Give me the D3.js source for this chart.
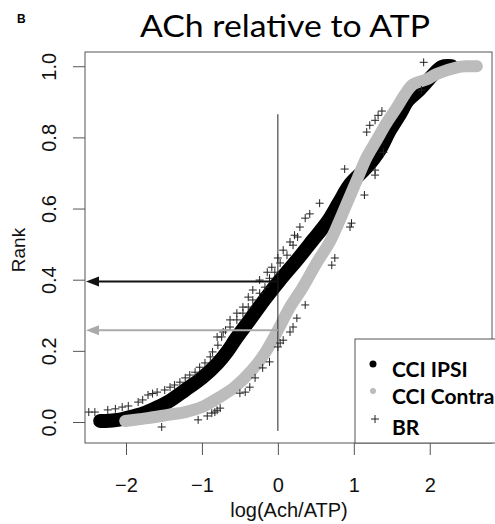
<!DOCTYPE html>
<html>
<head>
<meta charset="utf-8">
<script src="https://cdn.jsdelivr.net/npm/d3@7"></script>
<style>
  body { margin: 0; background: #fff; }
  svg { display: block; }
</style>
</head>
<body>
<div id="graphe"></div>
<script>
// ===============================
// Données
// ===============================
const ipsiX    = [-2.34, -2.27, -2.11, -1.95, -1.80, -1.66, -1.45, -1.22, -1.00, -0.79, -0.66, -0.55, -0.37, -0.15, 0.02, 0.25, 0.46, 0.66, 0.80, 0.95, 1.17, 1.34, 1.47, 1.61, 1.71, 1.87, 2.04, 2.16, 2.29];
const ipsiRang = [0.003, 0.003, 0.006, 0.014, 0.022, 0.034, 0.056, 0.090, 0.124, 0.166, 0.200, 0.235, 0.287, 0.351, 0.397, 0.455, 0.511, 0.565, 0.615, 0.668, 0.716, 0.764, 0.818, 0.866, 0.903, 0.935, 0.975, 0.998, 1.0];

const contraX    = [-2.01, -1.82, -1.71, -1.45, -1.22, -1.00, -0.79, -0.57, -0.34, -0.17, -0.02, 0.16, 0.33, 0.51, 0.68, 0.80, 0.91, 1.04, 1.17, 1.30, 1.43, 1.57, 1.67, 1.78, 1.96, 2.09, 2.36, 2.50, 2.62];
const contraRang = [0.003, 0.008, 0.011, 0.020, 0.028, 0.042, 0.067, 0.098, 0.146, 0.194, 0.250, 0.323, 0.379, 0.447, 0.505, 0.560, 0.615, 0.680, 0.744, 0.792, 0.840, 0.885, 0.920, 0.949, 0.963, 0.978, 0.997, 1.0, 1.0];

const brX = [
  -2.49, -2.41, -2.24, -2.14, -2.05, -1.97, -1.84, -1.78, -1.71, -1.65, -1.59, -1.49, -1.42, -1.36, -1.29, -1.22,
  -1.16, -1.09, -1.03, -0.96, -0.89, -0.86, -0.79, -0.74, -0.69, -0.63, -0.54, -0.46, -0.39, -0.33, -0.24, -0.14,
  -0.08, 0.00, 0.07, 0.16, 0.22, 0.29, 0.36, 0.42, 0.55, 0.88, 1.17, 1.21, 1.28, 1.32, 1.37, 1.92,
  -0.80, -0.72, -0.63, -0.54, -0.46, -0.39, -0.33, -0.24, -0.17, -0.11, -0.04, 0.03, 0.12, 0.20, 0.26,
  -1.53, -1.05, -0.93, -0.87, -0.83, -0.80, -0.76, -0.50, -0.43, -0.37, -0.30, -0.20, -0.11, 0.00, 0.03, 0.07,
  0.16, 0.20, 0.25, 0.36, 0.71, 0.75, 0.95, 0.97, 1.14, 1.28, 1.28, 1.39, 1.89
];
const brRang = [
  0.028, 0.028, 0.034, 0.037, 0.042, 0.045, 0.056, 0.062, 0.076, 0.080, 0.084, 0.090, 0.098, 0.104, 0.112, 0.124,
  0.132, 0.140, 0.154, 0.166, 0.183, 0.197, 0.216, 0.239, 0.258, 0.287, 0.306, 0.323, 0.351, 0.371, 0.399, 0.421,
  0.435, 0.461, 0.483, 0.506, 0.525, 0.548, 0.573, 0.585, 0.615, 0.711, 0.815, 0.834, 0.848, 0.862, 0.874, 1.011,
  0.239, 0.253, 0.267, 0.287, 0.306, 0.323, 0.343, 0.362, 0.379, 0.404, 0.421, 0.447, 0.469, 0.497, 0.520,
  -0.014, 0.006, 0.017, 0.025, 0.028, 0.033, 0.039, 0.081, 0.084, 0.098, 0.124, 0.152, 0.169, 0.211, 0.222, 0.230,
  0.253, 0.267, 0.292, 0.329, 0.441, 0.461, 0.548, 0.559, 0.638, 0.694, 0.708, 0.758, 0.933
];

const ticksX = [-2, -1, 0, 1, 2];
const ticksY = [0, 0.2, 0.4, 0.6, 0.8, 1.0];
const legendeNoms = ["CCI IPSI", "CCI Contra", "BR"];

// rangs des flèches et de la ligne verticale en x = 0
const rangFlecheNoire = 0.395;
const rangFlecheGrise = 0.258;
const ligneVerticale = [-0.025, 0.865];

// ===============================
// Mise en place du SVG
// ===============================
const largeur = 495, hauteur = 524;
const zone = { gauche: 85, droite: 492, haut: 52, bas: 443 };

const svg = d3.select("#graphe").append("svg")
    .attr("width", largeur)
    .attr("height", hauteur);

const x = d3.scaleLinear().domain([-2.54, 2.82]).range([zone.gauche, zone.droite]);
const y = d3.scaleLinear().domain([-0.059, 1.04]).range([zone.bas, zone.haut]);

const police = "'Liberation Sans', Arial, sans-serif";
const noir = "#000";
const gris = "#bcbcbc";

// ===============================
// Séries de points
// ===============================
function dessineSerie(xs, rangs, couleur, epaisseur, rayon) {
    const pts = xs.map((v, i) => [v, rangs[i]]);
    const ligne = d3.line()
        .x(d => x(d[0]))
        .y(d => y(d[1]))
        .curve(d3.curveCatmullRom);
    // les points sont si serrés qu'ils forment une bande
    svg.append("path")
        .attr("d", ligne(pts))
        .attr("fill", "none")
        .attr("stroke", couleur)
        .attr("stroke-width", epaisseur)
        .attr("stroke-linecap", "round")
        .attr("stroke-linejoin", "round");
    svg.append("g").selectAll("circle")
        .data(pts)
        .join("circle")
        .attr("cx", d => x(d[0]))
        .attr("cy", d => y(d[1]))
        .attr("r", rayon)
        .attr("fill", couleur);
}

dessineSerie(ipsiX, ipsiRang, noir, 14, 5.5);
dessineSerie(contraX, contraRang, gris, 12, 5.5);

const croix = "M-4,0H4M0,-4V4";
svg.append("g").selectAll("path")
    .data(brX.map((v, i) => [v, brRang[i]]))
    .join("path")
    .attr("d", croix)
    .attr("transform", d => `translate(${x(d[0])},${y(d[1])})`)
    .attr("stroke", "#222")
    .attr("stroke-width", 1)
    .attr("fill", "none");

// ===============================
// Ligne verticale et flèches
// ===============================
svg.append("line")
    .attr("x1", x(0)).attr("x2", x(0))
    .attr("y1", y(ligneVerticale[0])).attr("y2", y(ligneVerticale[1]))
    .attr("stroke", "#222")
    .attr("stroke-width", 1);

function fleche(rang, couleur) {
    const yy = y(rang);
    const bout = zone.gauche + 1;
    svg.append("line")
        .attr("x1", x(0)).attr("x2", bout + 10)
        .attr("y1", yy).attr("y2", yy)
        .attr("stroke", couleur)
        .attr("stroke-width", 2);
    svg.append("path")
        .attr("d", `M${bout},${yy}L${bout + 13},${yy - 5}L${bout + 13},${yy + 5}Z`)
        .attr("fill", couleur);
}
fleche(rangFlecheNoire, "#111");
fleche(rangFlecheGrise, "#aaa");

// ===============================
// Axes et cadre
// ===============================
svg.append("rect")
    .attr("x", zone.gauche).attr("y", zone.haut)
    .attr("width", zone.droite - zone.gauche)
    .attr("height", zone.bas - zone.haut)
    .attr("fill", "none")
    .attr("stroke", "#555");

const axeX = svg.append("g")
    .attr("transform", `translate(0,${zone.bas})`)
    .call(d3.axisBottom(x).tickValues(ticksX).tickSize(12).tickFormat(d3.format("d")));
axeX.select(".domain").remove();
axeX.selectAll("line").attr("stroke", "#555");
axeX.selectAll("text")
    .attr("y", 49).attr("dy", 0)
    .attr("font-family", police).attr("font-size", 20).attr("fill", "#111");

const axeY = svg.append("g")
    .attr("transform", `translate(${zone.gauche},0)`)
    .call(d3.axisLeft(y).tickValues(ticksY).tickSize(12).tickFormat(d3.format(".1f")));
axeY.select(".domain").remove();
axeY.selectAll("line").attr("stroke", "#555");
axeY.selectAll("text")
    .attr("transform", "rotate(-90)")
    .attr("x", 0).attr("y", -29).attr("dy", 0)
    .attr("text-anchor", "middle")
    .attr("font-family", police).attr("font-size", 20).attr("fill", "#111");

svg.append("text")
    .attr("x", 289).attr("y", 517)
    .attr("text-anchor", "middle")
    .attr("font-family", police).attr("font-size", 20).attr("fill", "#111")
    .text("log(Ach/ATP)");

svg.append("text")
    .attr("transform", "translate(25,250) rotate(-90)")
    .attr("text-anchor", "middle")
    .attr("font-family", police).attr("font-size", 19).attr("fill", "#111")
    .text("Rank");

// ===============================
// Titre
// ===============================
svg.append("text")
    .attr("x", 17).attr("y", 23)
    .attr("font-family", police).attr("font-weight", "bold").attr("font-size", 12)
    .text("B");

svg.append("text")
    .attr("x", 140).attr("y", 37)
    .attr("font-family", "Lato, 'Open Sans', sans-serif").attr("font-size", 31)
    .attr("textLength", 290).attr("lengthAdjust", "spacingAndGlyphs")
    .text("ACh relative to ATP");

// ===============================
// Légende
// ===============================
svg.append("rect")
    .attr("x", 355).attr("y", 339)
    .attr("width", 160).attr("height", zone.bas - 339)
    .attr("fill", "#fff")
    .attr("stroke", "#555");

const legendeY = [377, 404, 435];
const legende = svg.append("g");
legende.selectAll("text")
    .data(legendeNoms)
    .join("text")
    .attr("x", 392)
    .attr("y", (d, i) => legendeY[i])
    .attr("font-family", "Lato, 'Open Sans', sans-serif")
    .attr("font-weight", "bold")
    .attr("font-size", 21)
    .text(d => d);

legende.append("circle").attr("cx", 373).attr("cy", 364).attr("r", 3.5).attr("fill", noir);
legende.append("circle").attr("cx", 373).attr("cy", 391).attr("r", 3).attr("fill", gris);
legende.append("path")
    .attr("d", croix)
    .attr("transform", "translate(375,419)")
    .attr("stroke", "#222").attr("fill", "none");
</script>
</body>
</html>
